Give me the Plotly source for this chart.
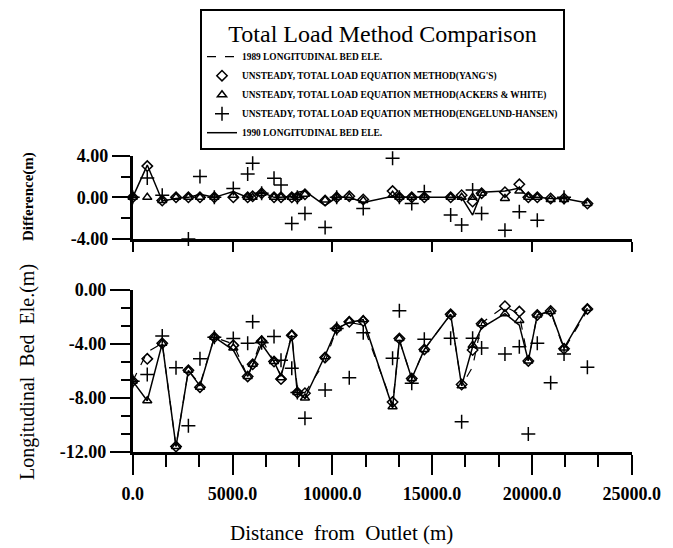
import plotly.graph_objects as go

# ---------------- data ----------------
distance = [0, 730, 1480, 2170, 2790, 3370, 4090, 5040, 5760, 6010, 6460, 7080, 7430, 7970,
            8250, 8630, 9640, 10220, 10850, 11550, 13020, 13360, 13980, 14610, 15930, 16480,
            17030, 17480, 18650, 19370, 19820, 20270, 20940, 21610, 22780]

# bottom panel: longitudinal bed elevation (m)
bed_1989 = [-6.75, -4.6, -3.95, -11.6, -5.95, -7.0, -3.5, -4.0, -6.4, -5.5, -3.6, -5.3, -6.3, -3.3,
            -7.3, -7.6, -5.3, -2.85, -2.4, -2.6, -8.5, -3.7, -6.55, -4.4, -1.8, -7.1,
            -5.7, -2.45, -1.2, -1.8, -5.25, -1.85, -1.6, -4.4, -1.5]
bed_yang = [-6.75, -5.1, -3.95, -11.6, -5.95, -7.2, -3.5, -4.1, -6.4, -5.5, -3.8, -5.3, -6.6, -3.35,
            -7.6, -7.65, -5.0, -2.85, -2.35, -2.3, -8.3, -3.6, -6.55, -4.4, -1.8, -7.0,
            -4.45, -2.5, -1.2, -1.6, -5.25, -1.85, -1.55, -4.35, -1.4]
bed_ackers = [-6.75, -8.2, -3.95, -11.6, -5.95, -7.2, -3.5, -4.3, -6.4, -5.5, -3.7, -5.3, -6.5, -3.3,
              -7.6, -8.0, -4.95, -2.85, -2.3, -2.2, -8.65, -3.6, -6.55, -4.4, -1.8, -7.1,
              -4.1, -2.5, -1.75, -2.25, -5.25, -1.85, -1.6, -4.3, -1.35]
bed_engelund = [-6.75, -6.25, -3.4, -5.75, -10.05, -5.1, -3.5, -3.6, -3.95, -2.35, -3.9, -3.45, -5.2, -5.8,
                -7.6, -9.5, -7.4, -2.85, -6.5, -3.16, -5.06, -1.53, -6.9, -3.65, -3.58, -9.75,
                -3.58, -4.3, -4.74, -4.2, -10.67, -3.95, -6.87, -4.74, -5.73]
bed_1990 = [-6.75, -8.2, -3.95, -11.6, -5.95, -7.1, -3.5, -4.45, -6.4, -5.55, -4.0, -5.3, -6.4, -3.35,
            -7.65, -8.0, -4.85, -2.85, -2.4, -2.2, -8.7, -3.7, -6.55, -4.4, -1.8, -7.1,
            -4.2, -2.8, -1.75, -2.6, -5.25, -1.85, -1.55, -4.3, -1.35]

# top panel: difference (m)
diff_line = [0, 3.1, -0.35, -0.1, 0, 0.3, 0, 0.55, 0, 0.1, 0.5, 0, 0, 0.1,
             0.5, 0.6, -0.8, 0, 0, -0.5, 0.1, 0, 0, 0, 0, 0,
             -1.7, 0.5, 0.6, 0.9, 0, 0, -0.1, -0.1, -0.55]
diff_yang = [0, 3.0, -0.3, 0, 0, 0, 0, 0, 0, 0.1, 0.4, 0, 0, 0,
             0, 0.3, -0.3, 0, 0.1, -0.2, 0.6, 0, 0, 0, 0, 0.2,
             -0.4, 0.4, 0.5, 1.25, 0, 0, -0.1, -0.1, -0.6]
diff_ackers = [0, 0, -0.3, 0, 0, 0, 0, 0.2, 0, 0, 0.4, 0, 0, 0,
               0, 0.3, -0.25, 0, 0, -0.3, 0.2, 0, 0, 0, 0, 0,
               0, 0.4, -0.1, 0.6, 0, 0, -0.2, -0.2, -0.6]
diff_engelund = [0, 1.85, 0.2, 5.83, -4.0, 2.0, 0, 0.86, 2.24, 3.27, 0.4, 1.83, 1.18, -2.5,
                 0, -1.54, -2.9, 0, -4.27, -1.06, 3.75, 0, -0.6, 0.54, -1.7, -2.66,
                 0.7, -1.54, -3.15, -1.38, -5.6, -2.2, -5.5, 0, -4.9]

x_tickvals = [0, 5000, 10000, 15000, 20000, 25000]
x_ticktext = ["0.0", "5000.0", "10000.0", "15000.0", "20000.0", "25000.0"]
top_tickvals = [4, 0, -4]
top_ticktext = ["4.00", "0.00", "-4.00"]
bot_tickvals = [0, -4, -8, -12]
bot_ticktext = ["0.00", "-4.00", "-8.00", "-12.00"]

legend_names = ["1989 LONGITUDINAL BED ELE.",
                "UNSTEADY, TOTAL LOAD EQUATION METHOD(YANG'S)",
                "UNSTEADY, TOTAL LOAD EQUATION METHOD(ACKERS & WHITE)",
                "UNSTEADY, TOTAL LOAD EQUATION METHOD(ENGELUND-HANSEN)",
                "1990 LONGITUDINAL BED ELE."]

# ---------------- figure ----------------
fig = go.Figure()
K = "black"
SERIF = "Liberation Serif"

def mk(sym, size):
    return dict(symbol=sym, size=size, color=K, line=dict(color=K, width=1.5))

# bottom panel
fig.add_trace(go.Scatter(x=distance, y=bed_1989, mode="lines", name=legend_names[0],
                         line=dict(color=K, width=1.2, dash="dash"), xaxis="x2", yaxis="y2"))
fig.add_trace(go.Scatter(x=distance, y=bed_yang, mode="markers", name=legend_names[1],
                         marker=mk("diamond-open", 8), xaxis="x2", yaxis="y2"))
fig.add_trace(go.Scatter(x=distance, y=bed_ackers, mode="markers", name=legend_names[2],
                         marker=mk("triangle-up-open", 8), xaxis="x2", yaxis="y2"))
fig.add_trace(go.Scatter(x=distance, y=bed_engelund, mode="markers", name=legend_names[3],
                         marker=mk("cross-thin-open", 10), xaxis="x2", yaxis="y2"))
fig.add_trace(go.Scatter(x=distance, y=bed_1990, mode="lines", name=legend_names[4],
                         line=dict(color=K, width=1.5), xaxis="x2", yaxis="y2"))

# top panel
fig.add_trace(go.Scatter(x=distance, y=diff_line, mode="lines", showlegend=False,
                         line=dict(color=K, width=1.5), xaxis="x", yaxis="y"))
fig.add_trace(go.Scatter(x=distance, y=diff_yang, mode="markers", showlegend=False,
                         marker=mk("diamond-open", 8), xaxis="x", yaxis="y", cliponaxis=False))
fig.add_trace(go.Scatter(x=distance, y=diff_ackers, mode="markers", showlegend=False,
                         marker=mk("triangle-up-open", 8), xaxis="x", yaxis="y", cliponaxis=False))
fig.add_trace(go.Scatter(x=distance, y=diff_engelund, mode="markers", showlegend=False,
                         marker=mk("cross-thin-open", 10), xaxis="x", yaxis="y", cliponaxis=False))

W, H = 673, 548
xdom = [132.7 / W, 631.7 / W]
tickfont = dict(family=SERIF, size=18, color=K, weight="bold")

common_x = dict(domain=xdom, range=[0, 25000], showgrid=False, zeroline=False, automargin=False,
                showline=True, linecolor=K, linewidth=2.5, ticks="outside",
                tickcolor=K, tickwidth=2, tickvals=x_tickvals)

fig.update_layout(
    width=W, height=H, autosize=False,
    margin=dict(l=0, r=0, t=0, b=0, pad=0),
    paper_bgcolor="white", plot_bgcolor="white",
    showlegend=True,
    xaxis=dict(**common_x, anchor="y", ticklen=10, showticklabels=False),
    yaxis=dict(domain=[1 - 239 / H, 1 - 155.7 / H], range=[-4, 4], anchor="x", automargin=False,
               showgrid=False, zeroline=False, showline=True, linecolor=K, linewidth=2.5,
               ticks="outside", ticklen=18, tickwidth=2, tickcolor=K,
               tickvals=top_tickvals, ticktext=top_ticktext, tickfont=tickfont,
               minor=dict(tickvals=[2, -2], ticklen=9, tickwidth=2, tickcolor=K, ticks="outside")),
    xaxis2=dict(**common_x, anchor="y2", ticklen=20, ticktext=x_ticktext, tickfont=tickfont,
                ticklabelstandoff=4,
                minor=dict(dtick=5000 / 3, tick0=0, ticklen=12, tickwidth=2, tickcolor=K,
                           ticks="outside")),
    yaxis2=dict(domain=[1 - 452 / H, 1 - 290 / H], range=[-12, 0], anchor="x2", automargin=False,
                showgrid=False, zeroline=False, showline=True, linecolor=K, linewidth=2.5,
                ticks="outside", ticklen=20, tickwidth=2, tickcolor=K,
                tickvals=bot_tickvals, ticktext=bot_ticktext, tickfont=tickfont,
                minor=dict(dtick=4 / 3, tick0=0, ticklen=9, tickwidth=2, tickcolor=K,
                           ticks="outside")),
    legend=dict(x=200 / W, y=1 - 9 / H, xanchor="left", yanchor="top",
                bgcolor="white", bordercolor=K, borderwidth=2,
                font=dict(family=SERIF, size=9.4, color=K, weight="bold"),
                title=dict(text="Total Load Method Comparison", side="top center",
                           font=dict(family=SERIF, size=24, color=K, weight="normal")),
                tracegroupgap=0, itemwidth=30),
    annotations=[
        dict(text="Difference(m)", x=28 / W, y=1 - 197 / H, xref="paper", yref="paper",
             xanchor="center", yanchor="middle", textangle=-90, showarrow=False,
             font=dict(family=SERIF, size=15, color=K, weight="bold")),
        dict(text="Longitudinal  Bed  Ele.(m)", x=27 / W, y=1 - 372 / H, xref="paper", yref="paper",
             xanchor="center", yanchor="middle", textangle=-90, showarrow=False,
             font=dict(family=SERIF, size=20, color=K)),
        dict(text="Distance  from  Outlet (m)", x=341 / W, y=1 - 533 / H, xref="paper", yref="paper",
             xanchor="center", yanchor="middle", showarrow=False,
             font=dict(family=SERIF, size=21, color=K)),
    ],
)

post = ("document.documentElement.style.margin='0';document.body.style.margin='0';"
        "document.body.style.padding='0';document.body.style.overflow='hidden';"
        "Plotly.relayout('{plot_id}', {width: 673, height: 548});")

fig.write_html("out.html", config={"responsive": False}, post_script=post)
